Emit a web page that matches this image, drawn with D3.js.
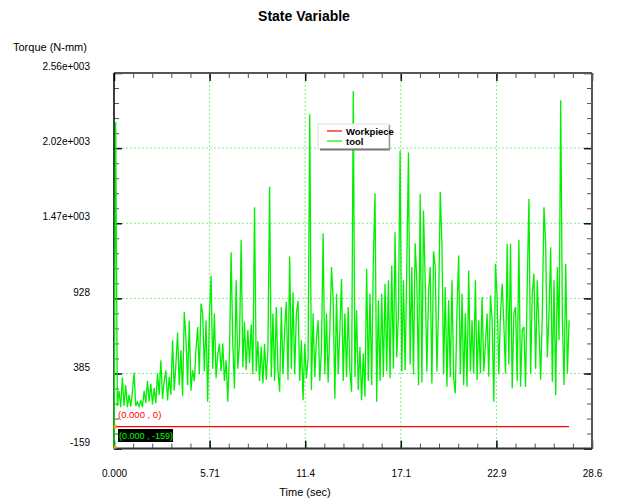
<!DOCTYPE html>
<html><head><meta charset="utf-8">
<script src="https://cdnjs.cloudflare.com/ajax/libs/d3/7.8.5/d3.min.js"></script>
<style>body{margin:0;background:#fff;} text{font-family:"Liberation Sans",Arial,sans-serif;}</style>
</head><body><svg id="c" width="618" height="502"></svg>
<script>
// ---- data ----
const timeStep = 0.1; // simulation output interval (sec)
const toolTorque = [
-159,2206,150,260,140,356,150,300,140,230,145,250,392,150,180,145,192,140,260,170,
331,180,310,160,280,170,385,230,481,200,330,408,190,360,230,625,260,450,681,300,
553,220,829,637,300,769,260,408,330,560,721,380,890,818,400,769,180,797,1092,420,
818,350,520,601,400,601,330,480,180,520,1263,600,277,1059,420,600,1352,430,760,410,
700,460,740,380,1588,400,620,330,580,313,600,340,560,1737,360,818,330,866,400,253,
866,380,700,902,340,1232,420,972,380,818,910,330,625,192,601,350,500,2262,265,818,
360,640,770,330,560,1400,380,818,320,700,1155,914,204,962,380,700,1068,330,818,360,
866,400,253,2430,360,842,265,577,192,529,216,1143,330,962,300,1191,1689,180,914,330,
962,360,1035,400,1059,350,1167,420,1408,500,818,1997,400,1059,409,1155,1985,450,1155,380,
1328,1059,300,1684,320,1564,1059,400,962,1155,313,1270,1155,400,866,1701,1323,380,1010,289,
914,360,1059,350,241,842,1239,380,962,300,818,289,1131,400,770,385,1059,337,770,385,
938,400,601,818,361,950,770,180,1179,938,380,818,1035,746,385,1323,450,1323,277,818,
866,330,1352,289,698,722,289,1035,1648,385,962,1107,420,1059,722,340,818,1588,1323,500,
818,1299,325,1059,229,1155,626,2363,770,301,1179,385,770
];
const workpieceTime = [0, 27.2];
const workpieceTorque = [0, 0];
const xTickValues = [0, 5.714, 11.428, 17.142, 22.856, 28.57];
const xTickLabels = ["0.000", "5.71", "11.4", "17.1", "22.9", "28.6"];
const yTickValues = [-159, 384.8, 928.6, 1472.4, 2016.2, 2560];
const yTickLabels = ["-159", "385", "928", "1.47e+003", "2.02e+003", "2.56e+003"];
const seriesNames = ["Workpiece", "tool"];
const seriesColors = ["#ff0000", "#00f000"];

// ---- layout ----
const svg = d3.select("#c");
const L = 114, R = 592, T = 73, B = 448.6;
const x = d3.scaleLinear().domain([0, 28.57]).range([L, R]);
const y = d3.scaleLinear().domain([-159, 2560]).range([B, T]);

svg.append("rect").attr("width", 618).attr("height", 502).attr("fill", "#fff");

// titles
svg.append("text").attr("x", 304).attr("y", 21).attr("text-anchor", "middle")
  .attr("font-size", 14).attr("font-weight", "bold").text("State Variable");
svg.append("text").attr("x", 13).attr("y", 51).attr("font-size", 11).text("Torque (N-mm)");
svg.append("text").attr("x", 305).attr("y", 496).attr("text-anchor", "middle")
  .attr("font-size", 11).text("Time (sec)");

// grid
const grid = svg.append("g").attr("stroke", "#80f080").attr("stroke-dasharray", "2,2").attr("stroke-width", 1);
grid.selectAll("line.v").data(xTickValues.slice(1, -1)).join("line")
  .attr("x1", d => x(d)).attr("x2", d => x(d)).attr("y1", T).attr("y2", B);
grid.selectAll("line.h").data(yTickValues.slice(1, -1)).join("line")
  .attr("class", "h").attr("x1", L).attr("x2", R).attr("y1", d => y(d)).attr("y2", d => y(d));

// ticks
const xMinor = d3.range(0, 26).map(i => i * 28.57 / 25);
const yMinor = d3.range(0, 26).map(i => -159 + i * 2719 / 25);
function tickAxis(axis, tr, vals, size, color, w) {
  const g = svg.append("g").attr("transform", tr)
    .call(axis.tickValues(vals).tickSize(size).tickFormat(""));
  g.select(".domain").remove();
  g.selectAll("line").attr("stroke", color).attr("stroke-width", w);
}
tickAxis(d3.axisTop(x), `translate(0,${B})`, xMinor, 5, "#555", 1);
tickAxis(d3.axisBottom(x), `translate(0,${T})`, xMinor, 5, "#555", 1);
tickAxis(d3.axisRight(y), `translate(${L},0)`, yMinor, 5, "#555", 1);
tickAxis(d3.axisLeft(y), `translate(${R},0)`, yMinor, 5, "#555", 1);
tickAxis(d3.axisTop(x), `translate(0,${B})`, xTickValues, 8, "#111", 1.5);
tickAxis(d3.axisBottom(x), `translate(0,${T})`, xTickValues, 8, "#111", 1.5);
tickAxis(d3.axisRight(y), `translate(${L},0)`, yTickValues, 8, "#111", 1.5);
tickAxis(d3.axisLeft(y), `translate(${R},0)`, yTickValues, 8, "#111", 1.5);

// frame
svg.append("line").attr("x1", L).attr("x2", R).attr("y1", T).attr("y2", T).attr("stroke", "#555").attr("stroke-width", 2);
svg.append("line").attr("x1", R).attr("x2", R).attr("y1", T).attr("y2", B).attr("stroke", "#555").attr("stroke-width", 2);
svg.append("line").attr("x1", L).attr("x2", R).attr("y1", B).attr("y2", B).attr("stroke", "#333").attr("stroke-width", 2);
svg.append("line").attr("x1", L).attr("x2", L).attr("y1", T).attr("y2", B).attr("stroke", "#000").attr("stroke-width", 1.5);

// tick labels
const xl = svg.append("g").attr("transform", `translate(0,${B})`)
  .call(d3.axisBottom(x).tickValues(xTickValues).tickFormat((d, i) => xTickLabels[i]).tickSize(0).tickPadding(21));
xl.select(".domain").remove();
xl.selectAll("text").attr("font-size", 10).attr("font-family", "Liberation Sans, Arial, sans-serif").attr("fill", "#000");
const yl = svg.append("g").attr("transform", `translate(90,0)`)
  .call(d3.axisLeft(y).tickValues(yTickValues).tickFormat((d, i) => yTickLabels[i]).tickSize(0).tickPadding(0));
yl.select(".domain").remove();
yl.selectAll("text").attr("font-size", 10).attr("font-family", "Liberation Sans, Arial, sans-serif").attr("fill", "#000").attr("y", -6.5);

// series
const toolData = toolTorque.map((v, i) => [i * timeStep, v]);
const wpData = workpieceTime.map((t, i) => [t, workpieceTorque[i]]);
const line = d3.line().x(d => x(d[0])).y(d => y(d[1]));
svg.append("path").datum(wpData).attr("d", line).attr("fill", "none").attr("stroke", seriesColors[0]).attr("stroke-width", 1.3);
svg.append("path").datum(toolData).attr("d", line).attr("fill", "none").attr("stroke", seriesColors[1]).attr("stroke-width", 1.3);

// start markers
svg.append("rect").attr("x", L).attr("y", y(0) - 2).attr("width", 2.5).attr("height", 4).attr("fill", "#ff9900");
svg.append("rect").attr("x", L).attr("y", y(-159) - 3).attr("width", 2.5).attr("height", 3).attr("fill", "#ff9900");

// annotations
svg.append("text").attr("x", 118).attr("y", 418).attr("font-size", 9.5).attr("fill", "#ff0000").text(`(0.000 , ${workpieceTorque[0]})`);
svg.append("rect").attr("x", 118).attr("y", 429).attr("width", 55).attr("height", 13).attr("fill", "#000");
svg.append("text").attr("x", 119).attr("y", 439).attr("font-size", 9).attr("fill", "#00ff00").text(`(0.000 , ${toolTorque[0]})`);

// legend
const lg = svg.append("g");
lg.append("rect").attr("x", 318).attr("y", 124).attr("width", 71).attr("height", 25).attr("fill", "#fff").attr("stroke", "#ddd").attr("stroke-width", 1);
lg.append("line").attr("x1", 320).attr("x2", 390).attr("y1", 149.5).attr("y2", 149.5).attr("stroke", "#777").attr("stroke-width", 2);
lg.append("line").attr("x1", 389.5).attr("x2", 389.5).attr("y1", 125).attr("y2", 150).attr("stroke", "#999").attr("stroke-width", 1.5);
seriesNames.forEach((n, i) => {
  const yy = 131 + i * 10;
  lg.append("line").attr("x1", 327).attr("x2", 342).attr("y1", yy).attr("y2", yy).attr("stroke", seriesColors[i]).attr("stroke-width", 1.2);
  lg.append("text").attr("x", 346).attr("y", yy + 3.5).attr("font-size", 9.5).attr("font-weight", "bold").text(n);
});
</script></body></html>
